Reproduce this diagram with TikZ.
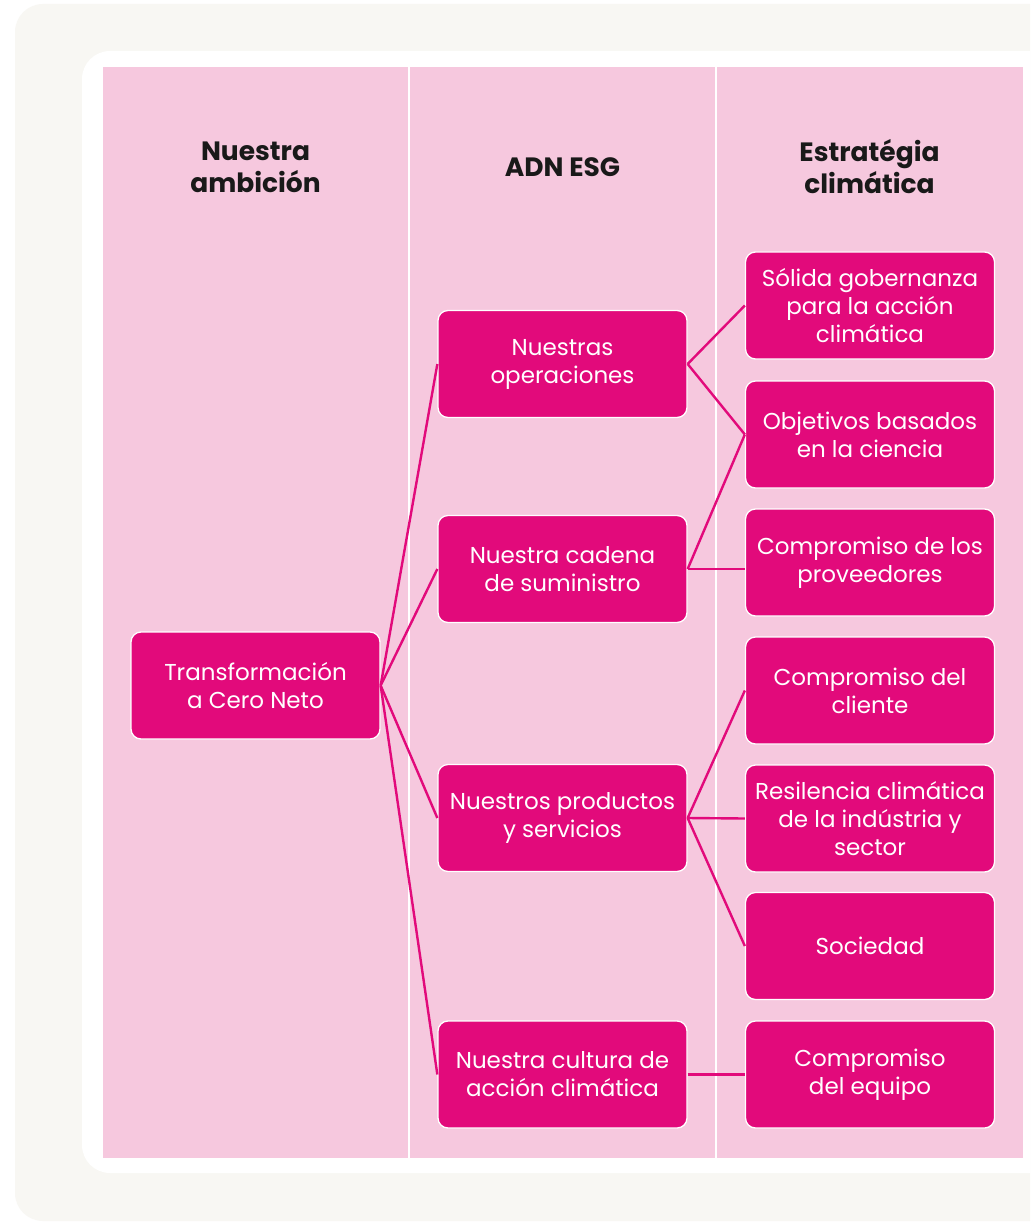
\documentclass[tikz,border=0pt]{standalone}
\usepackage{fontspec}
\setmainfont{Poppins}
\definecolor{mag}{HTML}{E20A7B}
\definecolor{pinkbg}{HTML}{F6C8DE}
\definecolor{greybg}{HTML}{F8F7F3}
\begin{document}
\begin{tikzpicture}[x=1pt,y=-1pt,
  box/.style={draw=white,line width=1.3pt,fill=mag,rounded corners=10pt,
    minimum width=249pt,minimum height=107pt,text=white,align=center,
    font=\fontsize{23}{28}\selectfont,inner sep=0pt},
  head/.style={align=center,text=black!90,font=\fontsize{26.5}{32}\selectfont\bfseries},
  link/.style={draw=mag,line width=2.4pt}]
\useasboundingbox (0,0) rectangle (1030,1222);
\clip (0,0) rectangle (1030,1222);
\fill[white] (0,0) rectangle (1030,1222);
\fill[greybg,rounded corners=28pt] (15,4) rectangle (1080,1221);
\fill[white,rounded corners=28pt] (82,51) rectangle (1060,1173);
\fill[pinkbg] (103,67) rectangle (1023,1158);
\draw[white,line width=2pt] (409,67) -- (409,1158);
\draw[white,line width=2pt] (716,67) -- (716,1158);
% headers
\node[head] (h1) at (255.5,167) {Nuestra\\ambición};
\node[head] (h2) at (562.5,167) {ADN ESG};
\node[head] (h3) at (869.5,167) {Estratégia\\climática};
% nodes
\node[box] (t) at (255.5,685.5) {Transformación\\a Cero Neto};
\node[box] (op) at (562.5,364) {Nuestras\\operaciones};
\node[box] (ca) at (562.5,569) {Nuestra cadena\\de suministro};
\node[box] (pr) at (562.5,818) {Nuestros productos\\y servicios};
\node[box] (cu) at (562.5,1074.5) {Nuestra cultura de\\acción climática};
\node[box] (r1) at (870,305.5) {Sólida gobernanza\\para la acción\\climática};
\node[box] (r2) at (870,434.5) {Objetivos basados\\en la ciencia};
\node[box] (r3) at (870,562.5) {Compromiso de los\\proveedores};
\node[box] (r4) at (870,690.5) {Compromiso del\\cliente};
\node[box] (r5) at (870,818.5) {Resilencia climática\\de la indústria y\\sector};
\node[box] (r6) at (870,946) {Sociedad};
\node[box] (r7) at (870,1074.5) {Compromiso\\del equipo};
% connectors
\draw[link] (t.east) -- (op.west);
\draw[link] (t.east) -- (ca.west);
\draw[link] (t.east) -- (pr.west);
\draw[link] (t.east) -- (cu.west);
\draw[link] (op.east) -- (r1.west);
\draw[link] (op.east) -- (r2.west);
\draw[link] (ca.east) -- (r2.west);
\draw[link] (ca.east) -- (ca.east -| r3.west);
\draw[link] (pr.east) -- (r4.west);
\draw[link] (pr.east) -- (r5.west);
\draw[link] (pr.east) -- (r6.west);
\draw[link] (cu.east) -- (r7.west);
\end{tikzpicture}
\end{document}
